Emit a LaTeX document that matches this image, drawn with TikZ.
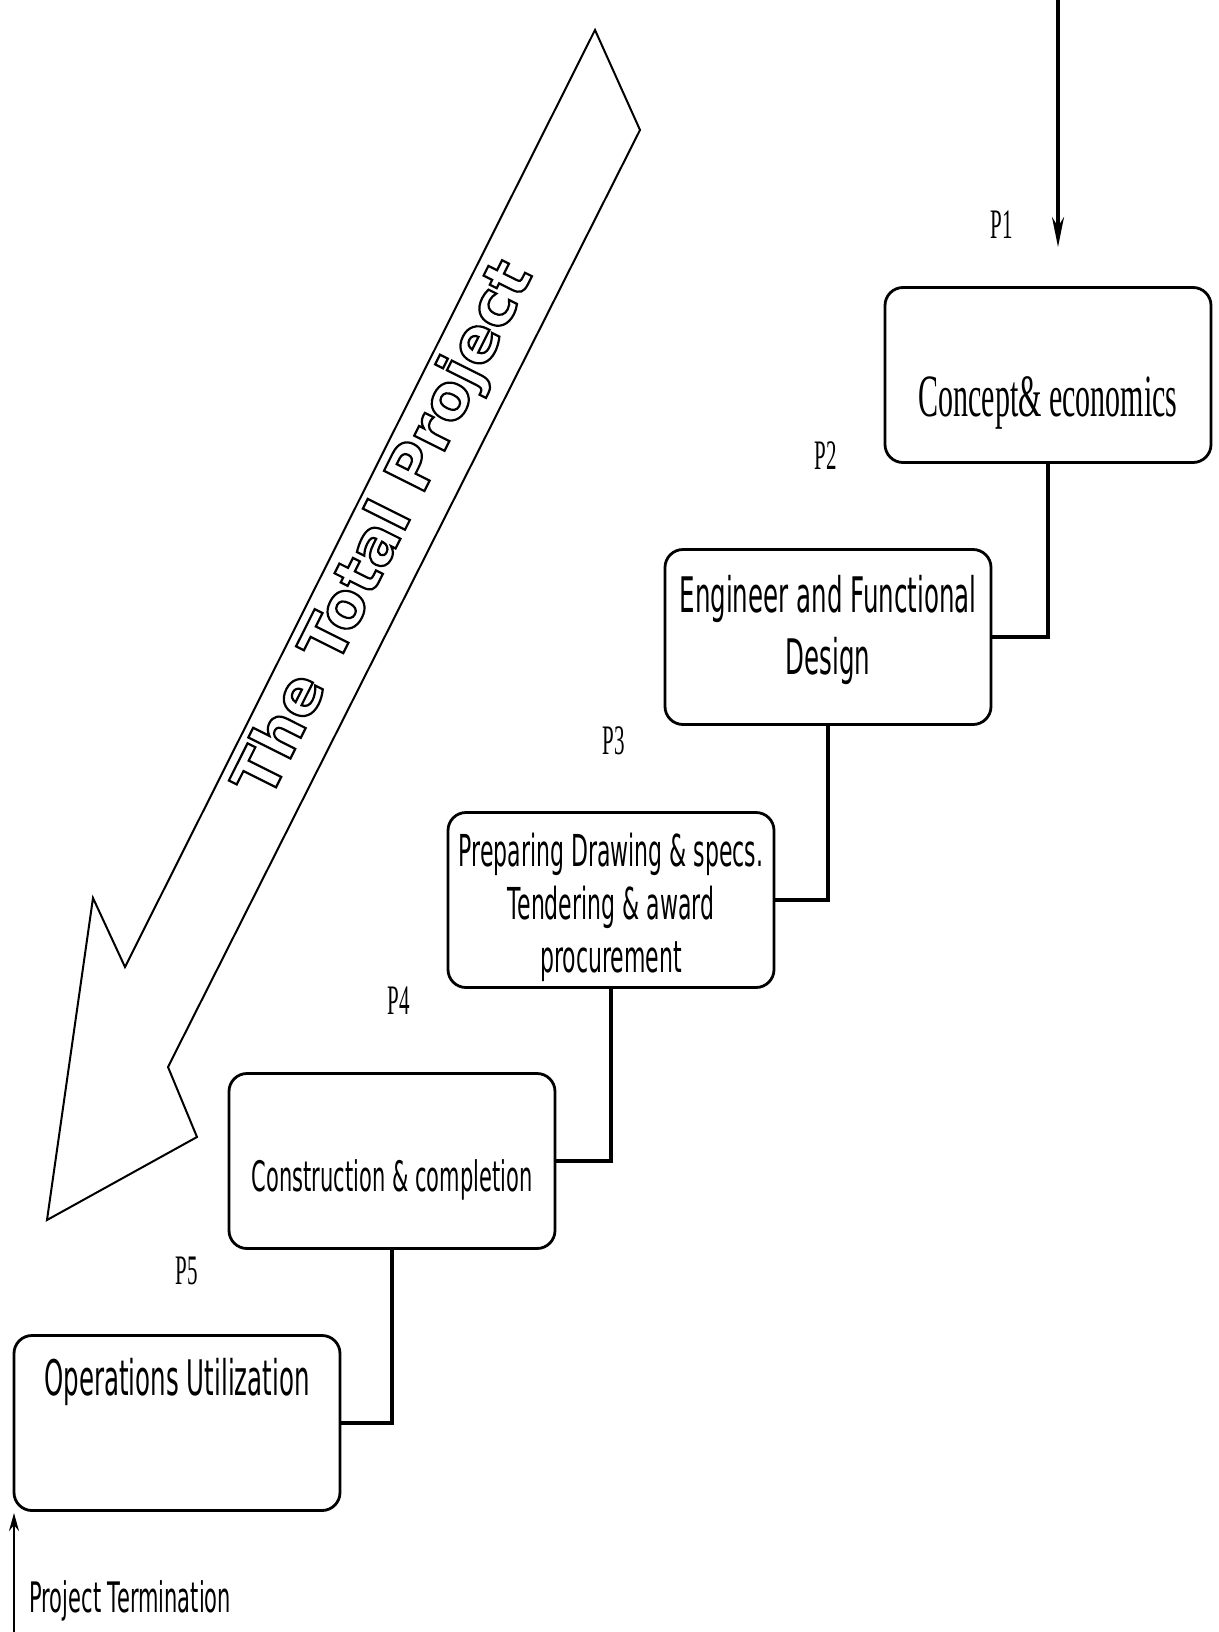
\documentclass[tikz,border=0pt]{standalone}
\usepackage{fontspec}
\usetikzlibrary{arrows.meta}

\newfontfamily\tallserif{Liberation Serif}[FakeStretch=0.5]
\newfontfamily\tallsans{DejaVu Sans}[FakeStretch=0.5]
\newfontfamily\bannerfont{DejaVu Sans}
% hollow letters: stroke the glyph outlines only
\newcommand\hollow[1]{\special{pdf:literal direct 1.1 w 1 Tr}#1\special{pdf:literal direct 0 Tr}}

\begin{document}
\begin{tikzpicture}[x=0.5pt, y=-0.5pt,
    stage/.style={draw, line width=1.4pt, rounded corners=9pt,
        minimum width=163pt, minimum height=87.5pt, inner sep=0pt},
    link/.style={line width=2.2pt},
    plabel/.style={font=\tallserif\fontsize{21}{24}\selectfont, inner sep=0pt}]
    \useasboundingbox (0, 0) rectangle (1219, 1632);

    % the big hollow arrow
    \draw [line width=1pt] (595, 30) -- (640, 130) -- (168, 1067) -- (197, 1137)
        -- (47, 1220) -- (93, 898) -- (125, 967) -- cycle;
    \node [rotate=63.4, font=\bannerfont\bfseries\fontsize{31}{31}\selectfont]
        (banner) at (386, 530) {\hollow{The Total Project}};

    % stages
    \node [stage] (p1) at (1048, 375)  {};
    \node [stage] (p2) at (828, 637)   {};
    \node [stage] (p3) at (611, 900)   {};
    \node [stage] (p4) at (392, 1161)  {};
    \node [stage] (p5) at (177, 1423)  {};

    \node [font=\tallserif\fontsize{30}{36}\selectfont] (t1) at (1048, 403) {Concept\& economics};
    \node [align=center, font=\tallsans\fontsize{24.5}{31}\selectfont] (t2) at (828, 630)
        {Engineer and Functional\\Design};
    \node [align=center, font=\tallsans\fontsize{22}{26.5}\selectfont] (t3) at (611, 907)
        {Preparing Drawing \& specs.\\Tendering \& award\\procurement};
    \node [font=\tallsans\fontsize{21}{25}\selectfont] (t4) at (392, 1180) {Construction \& completion};
    \node [font=\tallsans\fontsize{24.5}{30}\selectfont] (t5) at (177, 1382) {Operations Utilization};

    \foreach \i/\x/\y in {1/1002/225, 2/826/456, 3/614/741, 4/399/1001, 5/187/1271} {
        \node [plabel] (lab\i) at (\x, \y) {P\i};
        }

    \foreach \a/\b in {p1/p2, p2/p3, p3/p4, p4/p5} {
        \draw [link] (\a.south) |- (\b.east);
        }

    % way in and way out
    \coordinate (start) at (1058, 0);
    \coordinate (entry) at (1058, 247);
    \draw [line width=1.7pt, -{Stealth[length=15pt, width=6pt]}] (start) -- (entry);

    \coordinate (finish) at (14, 1632);
    \coordinate (exit) at (14, 1513);
    \draw [line width=1pt, -{Stealth[length=9pt, width=5pt]}] (finish) -- (exit);
    \node [anchor=west, inner sep=0pt, font=\tallsans\fontsize{21}{25}\selectfont]
        (term) at (29, 1601) {Project Termination};
\end{tikzpicture}
\end{document}
